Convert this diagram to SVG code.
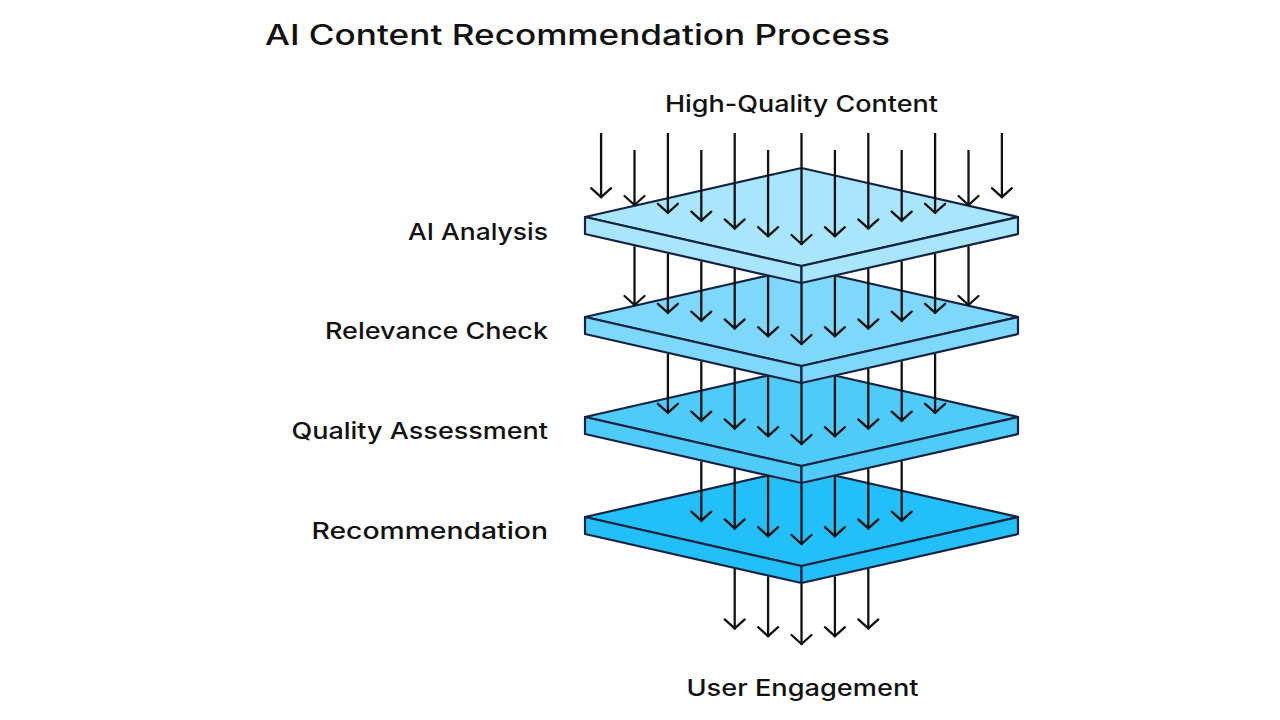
<svg xmlns="http://www.w3.org/2000/svg" width="1280" height="720" viewBox="0 0 1280 720">
  <defs>
    <marker id="ah" markerUnits="userSpaceOnUse" markerWidth="30" markerHeight="30" viewBox="-15 -15 30 30" refX="1" refY="0" orient="auto" overflow="visible">
      <path d="M-9,-10 L0,0 L-9,10" fill="none" stroke="#111111" stroke-width="2.3" stroke-linejoin="miter" stroke-linecap="round"/>
    </marker>
  </defs>
  <style>
    .plate polygon { stroke: #14233f; stroke-width: 2.2; stroke-linejoin: round; }
    .p1 polygon { fill: #a9e6fd; }
    .p2 polygon { fill: #7dd8fc; }
    .p3 polygon { fill: #4fcbfa; }
    .p4 polygon { fill: #22bff8; }
    .lbl { font-family: Inter, "Liberation Sans", Arial, sans-serif; font-weight: 500; font-size: 23px; fill: #111111; }
    .title { font-family: Inter, "Liberation Sans", Arial, sans-serif; font-weight: 500; font-size: 28px; fill: #111111; }
    #connectors path { fill: none; stroke: #111111; stroke-width: 2.3; marker-end: url(#ah); }
  </style>
  <rect x="0" y="0" width="1280" height="720" fill="#ffffff"/>

  <text class="title" x="265" y="45" textLength="625" lengthAdjust="spacingAndGlyphs">AI Content Recommendation Process</text>

  <g id="source">
    <text class="lbl" x="665" y="112" textLength="273" lengthAdjust="spacingAndGlyphs">High-Quality Content</text>
  </g>

  <g id="layer-recommendation" class="plate p4">
    <polygon points="585,517 801.5,468 1018,517 801.5,566"/>
    <polygon points="585,517 801.5,566 801.5,583 585,534"/>
    <polygon points="801.5,566 1018,517 1018,534 801.5,583"/>
    <text class="lbl" x="311.5" y="538.5" textLength="236.5" lengthAdjust="spacingAndGlyphs">Recommendation</text>
  </g>

  <g id="layer-quality-assessment" class="plate p3">
    <polygon points="585,417 801.5,368 1018,417 801.5,466"/>
    <polygon points="585,417 801.5,466 801.5,483 585,434"/>
    <polygon points="801.5,466 1018,417 1018,434 801.5,483"/>
    <text class="lbl" x="291.5" y="438.5" textLength="256.5" lengthAdjust="spacingAndGlyphs">Quality Assessment</text>
  </g>

  <g id="layer-relevance-check" class="plate p2">
    <polygon points="585,317 801.5,268 1018,317 801.5,366"/>
    <polygon points="585,317 801.5,366 801.5,383 585,334"/>
    <polygon points="801.5,366 1018,317 1018,334 801.5,383"/>
    <text class="lbl" x="325" y="338.5" textLength="223" lengthAdjust="spacingAndGlyphs">Relevance Check</text>
  </g>

  <g id="layer-ai-analysis" class="plate p1">
    <polygon points="585,217 801.5,168 1018,217 801.5,266"/>
    <polygon points="585,217 801.5,266 801.5,283 585,234"/>
    <polygon points="801.5,266 1018,217 1018,234 801.5,283"/>
    <text class="lbl" x="408" y="239.5" textLength="140" lengthAdjust="spacingAndGlyphs">AI Analysis</text>
  </g>

  <g id="sink">
    <text class="lbl" x="686.5" y="696" textLength="232" lengthAdjust="spacingAndGlyphs">User Engagement</text>
  </g>

  <g id="connectors">
    <!-- into AI Analysis -->
    <path d="M601.1,133 V198.2"/>
    <path d="M634.5,150 V206"/>
    <path d="M667.9,133 V213.8"/>
    <path d="M701.3,150 V221.6"/>
    <path d="M734.7,133 V229.4"/>
    <path d="M768.1,150 V237.2"/>
    <path d="M801.5,133 V245"/>
    <path d="M834.9,150 V237.2"/>
    <path d="M868.3,133 V229.4"/>
    <path d="M901.7,150 V221.6"/>
    <path d="M935.1,133 V213.8"/>
    <path d="M968.5,150 V206"/>
    <path d="M1001.9,133 V198.2"/>
    <!-- into Relevance Check -->
    <path d="M634.5,246.2 V306"/>
    <path d="M667.9,253.8 V313.8"/>
    <path d="M701.3,261.3 V321.6"/>
    <path d="M734.7,268.9 V329.4"/>
    <path d="M768.1,276.4 V337.2"/>
    <path d="M801.5,284 V345"/>
    <path d="M834.9,276.4 V337.2"/>
    <path d="M868.3,268.9 V329.4"/>
    <path d="M901.7,261.3 V321.6"/>
    <path d="M935.1,253.8 V313.8"/>
    <path d="M968.5,246.2 V306"/>
    <!-- into Quality Assessment -->
    <path d="M667.9,353.8 V413.8"/>
    <path d="M701.3,361.3 V421.6"/>
    <path d="M734.7,368.9 V429.4"/>
    <path d="M768.1,376.4 V437.2"/>
    <path d="M801.5,384 V445"/>
    <path d="M834.9,376.4 V437.2"/>
    <path d="M868.3,368.9 V429.4"/>
    <path d="M901.7,361.3 V421.6"/>
    <path d="M935.1,353.8 V413.8"/>
    <!-- into Recommendation -->
    <path d="M701.3,461.3 V521.6"/>
    <path d="M734.7,468.9 V529.4"/>
    <path d="M768.1,476.4 V537.2"/>
    <path d="M801.5,484 V545"/>
    <path d="M834.9,476.4 V537.2"/>
    <path d="M868.3,468.9 V529.4"/>
    <path d="M901.7,461.3 V521.6"/>
    <!-- to User Engagement -->
    <path d="M734.7,568.9 V629.4"/>
    <path d="M768.1,576.4 V637.2"/>
    <path d="M801.5,584 V645"/>
    <path d="M834.9,576.4 V637.2"/>
    <path d="M868.3,568.9 V629.4"/>
  </g>
</svg>
